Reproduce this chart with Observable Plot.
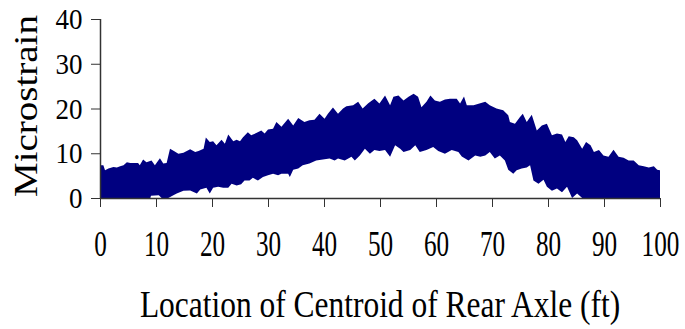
<!DOCTYPE html>
<html><head><meta charset="utf-8">
<script src="https://cdn.jsdelivr.net/npm/d3@7"></script>
<script src="https://cdn.jsdelivr.net/npm/@observablehq/plot@0.6"></script>
<style>html,body{margin:0;padding:0;background:#fff;} svg{display:block;}</style>
</head><body><div id="chart"></div>
<script>
// Upper envelope of the strain record (ft, microstrain)
const upperFt  = [0,0.6,0.9,1.5,2.4,3.0,3.6,4.2,4.8,5.4,6.8,7.1,7.7,8.3,9.2,9.8,10.7,11.3,11.9,12.5,13.2,14.0,14.9,16.1,17.0,17.6,18.5,18.9,19.6,20.2,20.8,21.7,22.3,22.9,23.8,24.4,25.0,25.5,26.4,27.0,27.9,28.8,29.4,30.0,30.9,31.5,32.4,33.6,34.5,35.4,36.5,37.4,38.3,39.2,40.1,40.7,41.6,42.5,43.4,44.0,45.2,46.1,46.9,47.9,49.0,49.9,50.9,51.8,52.4,53.3,54.2,55.1,56.0,56.8,57.4,58.3,59.0,59.8,60.7,61.6,62.5,63.7,64.3,65.0,65.5,66.7,67.9,68.8,69.6,70.8,72.0,72.9,73.2,74.1,75.0,75.5,76.2,77.1,78.0,78.9,79.8,80.7,81.6,82.5,83.1,83.7,84.6,85.2,86.1,86.8,87.6,88.2,89.1,89.9,90.8,91.7,92.6,93.5,94.4,95.3,96.2,97.1,98.0,98.9,99.5,100];
const upperVal = [7.3,7.3,6.2,6.6,6.9,6.8,7.1,7.3,8.0,7.8,7.8,7.3,8.6,8.0,8.4,7.3,8.9,7.7,7.8,11.0,10.5,9.9,10.1,10.9,10.3,10.5,11.0,13.5,12.5,12.7,11.8,13.0,12.1,14.2,12.7,13.0,12.7,13.5,14.7,14.0,14.5,15.1,14.4,15.3,15.5,17.0,15.9,17.7,16.2,17.9,17.0,17.4,17.5,18.8,17.7,18.8,20.2,18.8,20.0,20.5,20.7,21.5,20.0,21.2,22.2,21.1,22.9,20.7,22.6,22.9,21.8,22.6,23.3,22.6,20.3,21.5,22.9,21.8,21.5,22.0,22.2,22.2,21.1,22.7,20.7,20.7,21.2,21.5,20.7,20.0,19.6,18.5,17.0,16.6,18.1,18.8,17.0,18.6,15.1,16.2,16.6,14.0,14.4,14.2,12.5,13.8,13.6,12.9,11.0,12.5,11.8,10.3,10.7,9.5,9.2,10.8,9.2,9.0,8.4,8.4,7.3,7.1,6.8,7.1,6.3,6.2];
// Lower envelope of the strain record (ft, microstrain)
const lowerFt  = [0,9.0,9.1,10.5,11.0,12.2,13.1,13.7,14.9,16.1,17.3,17.9,19.0,19.6,20.2,21.1,22.0,22.9,23.5,24.4,25.2,25.8,26.7,27.3,28.2,29.1,30.0,30.9,31.8,32.4,33.6,33.9,34.5,35.4,36.2,37.4,38.6,39.8,41.0,41.9,42.5,43.7,44.9,45.5,46.4,47.3,48.2,49.0,49.9,50.9,51.8,52.7,53.6,54.2,55.4,56.3,57.1,58.3,59.5,60.4,61.6,62.8,64.0,64.6,65.8,67.0,67.9,68.8,69.6,70.5,71.4,72.3,72.9,73.8,74.4,75.3,76.2,76.8,77.4,78.3,79.2,79.8,80.7,81.6,82.5,83.4,84.3,85.2,86.1,100];
const lowerVal = [0,0,0.5,0.6,0,0,0.6,1.0,1.6,1.7,1.0,1.9,2.3,1.0,2.3,2.5,2.3,2.3,3.2,2.8,3.1,3.9,3.9,4.5,3.9,4.7,5.1,5.4,5.1,5.4,5.4,4.7,6.3,6.6,7.3,7.7,8.4,8.6,8.8,8.4,8.8,8.4,9.2,8.4,9.5,11.0,9.9,10.7,10.5,10.7,9.2,11.8,11.0,10.3,10.7,11.8,10.3,10.7,11.4,10.5,9.9,10.7,10.3,9.3,8.4,9.5,9.2,9.5,10.3,8.8,9.5,8.4,6.3,5.4,6.2,6.6,6.8,7.3,3.9,3.2,4.1,2.5,1.6,2.1,1.3,2.5,0,1.0,0,0];
const xTicks = [0,10,20,30,40,50,60,70,80,90,100];
const yTicks = [0,10,20,30,40];
const xTitle = "Location of Centroid of Rear Axle (ft)";
const yTitle = "Microstrain";

const upper = upperFt.map((x, i) => ({x, v: upperVal[i]}));
const lower = lowerFt.map((x, i) => ({x, v: lowerVal[i]}));

const chart = Plot.plot({
  width: 685, height: 329,
  marginLeft: 100, marginRight: 25, marginTop: 19, marginBottom: 131,
  style: {fontFamily: "'Liberation Serif','Times New Roman',serif", background: "#fff", color: "#000"},
  x: {domain: [0, 100]},
  y: {domain: [0, 40]},
  marks: [
    Plot.areaY(upper, {x: "x", y: "v", fill: "#000080"}),
    Plot.areaY(lower, {x: "x", y: "v", fill: "#ffffff"}),
    Plot.ruleX([0], {stroke: "#333", strokeWidth: 1.5}),
    Plot.ruleY([0], {stroke: "#333", strokeWidth: 1.5}),
    Plot.axisX({ticks: xTicks, tickSize: 9, tickPadding: 24, fontSize: 35, label: null, stroke: "#333", tickFormat: d => String(d)}),
    Plot.axisY({ticks: yTicks, tickSize: 9, tickPadding: 9, fontSize: 30, label: null, stroke: "#333", tickFormat: d => String(d)})
  ]
});
document.getElementById("chart").appendChild(chart);

const svg = d3.select(chart);
function squeeze(sel, s) {
  svg.selectAll(sel).each(function () {
    const x = parseFloat(this.getAttribute("x")) || 0;
    const t = this.getAttribute("transform") || "";
    this.setAttribute("transform", `${t} translate(${x},0) scale(${s},1) translate(${-x},0)`);
  });
}
squeeze('g[aria-label="x-axis tick label"] text', 0.72);
squeeze('g[aria-label="y-axis tick label"] text', 0.9);

svg.append("text")
  .attr("transform", "translate(380,317) scale(0.85,1)")
  .attr("text-anchor", "middle")
  .attr("font-size", 37)
  .attr("fill", "#000")
  .text(xTitle);
svg.append("text")
  .attr("transform", "translate(37,106) rotate(-90) scale(1,0.84)")
  .attr("text-anchor", "middle")
  .attr("font-size", 39)
  .attr("fill", "#000")
  .text(yTitle);
</script>
</body></html>
